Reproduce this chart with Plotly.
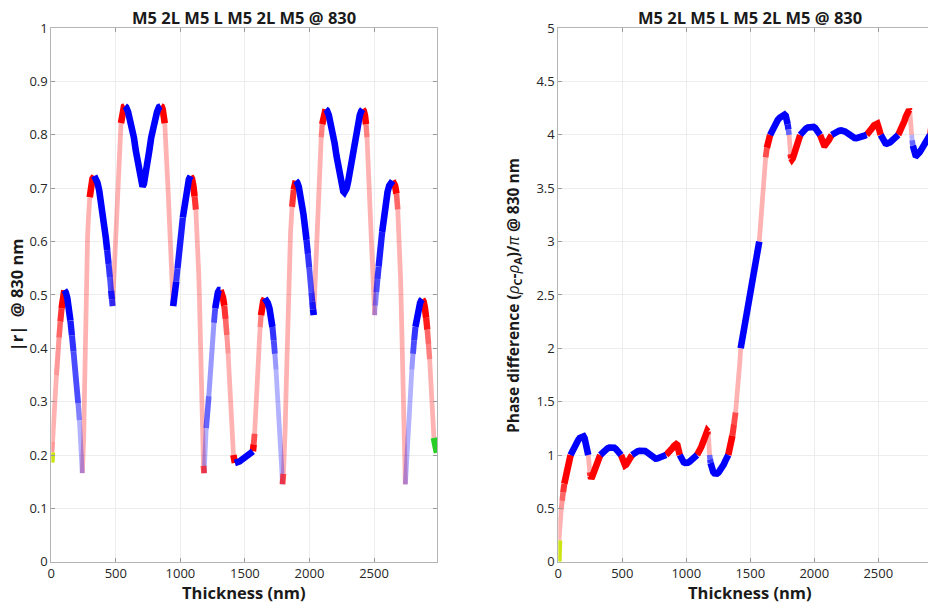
import math
import plotly.graph_objects as go

# ---------------- data: |r| @ 830 nm (left panel) ----------------
R_THICK = [0, 2, 4, 10, 15, 22, 30, 40, 50, 60, 70, 80, 90,
           101, 112, 124, 136, 148, 160, 172, 184, 196, 208, 218, 227, 234, 238,
           240, 246, 251, 255, 259, 263, 268, 274, 281, 289, 298, 308, 319,
           333, 345, 358, 371, 384, 397, 410, 422, 433, 444, 454, 463, 470,
           475, 481, 487, 493, 499, 505, 512, 519, 526, 533, 540, 548, 556, 563,
           570, 580, 595, 610, 625, 640, 655, 670, 685, 697, 707, 717, 729, 744, 759, 774, 789, 804, 819, 834,
           849, 856, 863, 871, 879, 886, 893, 900, 907, 914, 920, 926, 932, 938,
           944, 950, 958, 968, 978, 988, 998, 1008, 1019, 1030, 1042, 1054, 1066,
           1079, 1090, 1100, 1110, 1120, 1128, 1135, 1142, 1148, 1154, 1159, 1164, 1169, 1174, 1179,
           1184, 1188, 1193, 1200, 1210, 1220, 1230, 1240, 1250, 1260, 1270, 1280, 1291, 1301,
           1311, 1320, 1330, 1340, 1350, 1360, 1370, 1380, 1390, 1398, 1405, 1411, 1417,
           1422, 1440, 1460, 1480, 1500, 1520, 1540,
           1562, 1568, 1575, 1583, 1590, 1597, 1604, 1611, 1618, 1625, 1633, 1642,
           1654, 1665, 1677, 1690, 1702, 1713, 1723, 1732, 1741, 1750, 1758, 1766, 1773, 1779, 1785,
           1791, 1798, 1805, 1812, 1819, 1826, 1833, 1842, 1853, 1865, 1878, 1887,
           1894, 1905, 1917, 1929, 1941, 1953, 1965, 1977, 1988, 1998, 2007, 2015, 2022, 2028,
           2033, 2038, 2044, 2050, 2056, 2063, 2070, 2077, 2084, 2091, 2099, 2107, 2116,
           2125, 2135, 2150, 2165, 2180, 2195, 2210, 2225, 2240, 2252, 2262, 2270, 2278, 2288, 2300, 2315, 2330, 2345, 2360, 2375, 2390, 2402,
           2412, 2421, 2430, 2438, 2446, 2453, 2460, 2467, 2474, 2481, 2487, 2493, 2499,
           2505, 2510, 2518, 2527, 2536, 2545, 2554, 2563, 2572, 2582, 2593, 2605, 2618, 2631,
           2644, 2652, 2663, 2674, 2684, 2693, 2700, 2706, 2712, 2718, 2724, 2730, 2736, 2740,
           2743, 2749, 2755, 2761, 2768, 2776, 2784, 2793, 2802, 2811, 2821, 2832, 2844, 2857, 2866,
           2874, 2884, 2894, 2904, 2913, 2922, 2931, 2939, 2946, 2953, 2959,
           2964, 2970, 2976, 2982, 2988]
R_ABS = [0.186, 0.195, 0.205, 0.225, 0.25, 0.28, 0.31, 0.35, 0.385, 0.42, 0.45, 0.475, 0.495,
         0.509, 0.505, 0.494, 0.476, 0.452, 0.424, 0.394, 0.362, 0.33, 0.297, 0.265, 0.232, 0.2, 0.178,
         0.166, 0.19, 0.23, 0.29, 0.36, 0.43, 0.5, 0.56, 0.61, 0.65, 0.683, 0.705, 0.718,
         0.723, 0.719, 0.71, 0.696, 0.678, 0.656, 0.632, 0.608, 0.584, 0.558, 0.533, 0.508, 0.492,
         0.479, 0.51, 0.545, 0.585, 0.615, 0.645, 0.685, 0.73, 0.765, 0.795, 0.822, 0.838, 0.848, 0.853,
         0.854, 0.852, 0.843, 0.83, 0.815, 0.795, 0.77, 0.745, 0.722, 0.708, 0.703, 0.708, 0.722, 0.745, 0.77, 0.795, 0.815, 0.83, 0.843, 0.852,
         0.854, 0.853, 0.848, 0.838, 0.822, 0.795, 0.765, 0.73, 0.685, 0.645, 0.615, 0.585, 0.545, 0.51,
         0.479, 0.49, 0.505, 0.525, 0.55, 0.573, 0.597, 0.62, 0.645, 0.668, 0.69, 0.706, 0.717,
         0.723, 0.718, 0.705, 0.685, 0.66, 0.625, 0.585, 0.54, 0.49, 0.43, 0.36, 0.3, 0.25, 0.21, 0.18,
         0.166, 0.19, 0.22, 0.25, 0.28, 0.31, 0.345, 0.38, 0.415, 0.448, 0.475, 0.494, 0.505, 0.509,
         0.509, 0.505, 0.495, 0.48, 0.455, 0.425, 0.39, 0.345, 0.3, 0.26, 0.225, 0.2, 0.188,
         0.185, 0.186, 0.188, 0.192, 0.196, 0.2, 0.204,
         0.207, 0.22, 0.24, 0.27, 0.303, 0.34, 0.375, 0.41, 0.44, 0.462, 0.478, 0.488,
         0.494, 0.491, 0.485, 0.475, 0.46, 0.44, 0.415, 0.39, 0.36, 0.328, 0.297, 0.265, 0.235, 0.205, 0.175,
         0.145, 0.165, 0.2, 0.25, 0.32, 0.4, 0.47, 0.545, 0.615, 0.665, 0.697, 0.71,
         0.714, 0.711, 0.703, 0.69, 0.673, 0.652, 0.628, 0.603, 0.577, 0.551, 0.527, 0.505, 0.487, 0.473,
         0.462, 0.49, 0.525, 0.56, 0.595, 0.635, 0.68, 0.725, 0.765, 0.795, 0.82, 0.836, 0.845,
         0.848, 0.846, 0.837, 0.823, 0.805, 0.784, 0.76, 0.735, 0.713, 0.7, 0.694, 0.692, 0.694, 0.7, 0.713, 0.735, 0.76, 0.784, 0.805, 0.823, 0.837, 0.845,
         0.848, 0.845, 0.836, 0.82, 0.795, 0.765, 0.725, 0.68, 0.635, 0.595, 0.56, 0.525, 0.49,
         0.462, 0.48, 0.505, 0.53, 0.553, 0.575, 0.597, 0.618, 0.638, 0.658, 0.677, 0.693, 0.705, 0.712,
         0.714, 0.712, 0.705, 0.69, 0.66, 0.62, 0.58, 0.53, 0.47, 0.4, 0.33, 0.26, 0.2, 0.165,
         0.145, 0.175, 0.205, 0.235, 0.265, 0.297, 0.328, 0.36, 0.39, 0.415, 0.44, 0.46, 0.475, 0.485, 0.49,
         0.492, 0.488, 0.476, 0.457, 0.435, 0.408, 0.38, 0.35, 0.318, 0.285, 0.255,
         0.232, 0.222, 0.213, 0.207, 0.204]
# colour runs: from each start thickness on, the marks take that colour
R_RUN_START = [0, 4, 101, 240, 333, 475, 570, 849, 944, 1079, 1184, 1311, 1422, 1562,
               1654, 1791, 1894, 2033, 2125, 2412, 2505, 2644, 2743, 2874, 2964]
R_RUN_COLOR = ['y', 'r', 'b', 'r', 'b', 'r', 'b', 'r', 'b', 'r', 'b', 'r', 'b', 'r',
               'b', 'r', 'b', 'r', 'b', 'r', 'b', 'r', 'b', 'r', 'g']

# ---------------- data: phase difference (right panel) ----------------
P_THICK = [0, 1, 2, 3,
           5, 8, 12, 17, 23, 30, 38, 47, 57, 67, 77, 87,
           96, 110, 125, 140, 155, 168, 180, 190, 198, 205, 211, 217, 223, 229,
           234, 238, 242, 246, 250, 254, 258, 263, 270, 280, 290, 300, 312, 322,
           328, 342, 356, 370, 385, 400, 413, 425, 438, 451, 463, 476,
           490, 496, 502, 508, 515, 522, 530, 540, 550, 560, 570,
           576, 590, 605, 620, 635, 650, 664, 678, 692, 706, 720, 734, 748, 760, 772, 785, 800, 815, 830,
           842, 855, 868, 880, 892, 903, 913, 922, 930, 936, 941, 946,
           949, 955, 962, 970, 980, 990, 1000, 1012, 1025, 1040, 1055, 1068, 1080,
           1084, 1095, 1106, 1117, 1128, 1138, 1148, 1157, 1164, 1169, 1172, 1175, 1178, 1181,
           1182, 1186, 1190, 1196, 1203, 1211, 1220, 1230, 1240, 1252, 1265, 1278, 1292, 1305, 1318,
           1328, 1345, 1360, 1373, 1385, 1395, 1404, 1412, 1419,
           1425, 1445, 1465, 1485, 1505, 1525, 1545, 1560,
           1570, 1578, 1586, 1594, 1602, 1611, 1620, 1630, 1641,
           1655, 1670, 1685, 1700, 1715, 1730, 1745, 1758, 1768, 1777, 1785, 1792, 1798,
           1803, 1807, 1811, 1815, 1820, 1825, 1831, 1840, 1850, 1860, 1870, 1880,
           1890, 1905, 1920, 1935, 1950, 1965, 1980, 1995, 2008, 2020, 2032,
           2045, 2052, 2060, 2068, 2076, 2085, 2095, 2105, 2115, 2125,
           2136, 2150, 2165, 2180, 2195, 2210, 2225, 2240, 2255, 2270, 2285, 2300, 2315, 2330, 2345, 2360, 2375, 2390,
           2409, 2420, 2432, 2444, 2456, 2467, 2477, 2486, 2493, 2500, 2507, 2513,
           2519, 2527, 2536, 2546, 2556, 2566, 2578, 2592, 2606, 2620, 2635, 2648,
           2656, 2668, 2680, 2692, 2704, 2715, 2725, 2734, 2741, 2746, 2749, 2752, 2755, 2758,
           2761, 2765, 2770, 2776, 2783, 2791, 2800, 2810, 2822, 2835, 2850, 2865, 2880, 2893,
           2904, 2912, 2919, 2926, 2932, 2938, 2943, 2948, 2953, 2958, 2963, 2968]
P_PHASE = [0, 0.05, 0.1, 0.15,
           0.2, 0.26, 0.33, 0.41, 0.49, 0.57, 0.65, 0.73, 0.8, 0.86, 0.915, 0.96,
           1.0, 1.04, 1.077, 1.11, 1.138, 1.16, 1.173, 1.178, 1.174, 1.16, 1.135, 1.1, 1.065, 1.03,
           1.0, 0.95, 0.89, 0.84, 0.805, 0.787, 0.783, 0.792, 0.815, 0.848, 0.878, 0.906, 0.94, 0.97,
           1.0, 1.02, 1.037, 1.05, 1.062, 1.069, 1.072, 1.073, 1.068, 1.056, 1.04, 1.02,
           1.0, 0.97, 0.94, 0.918, 0.906, 0.904, 0.91, 0.925, 0.945, 0.965, 0.985,
           1.0, 1.015, 1.027, 1.035, 1.04, 1.043, 1.043, 1.038, 1.027, 1.012, 0.995, 0.98, 0.97, 0.966, 0.967, 0.972, 0.98, 0.988, 0.995,
           1.0, 1.013, 1.028, 1.045, 1.065, 1.083, 1.097, 1.102, 1.095, 1.075, 1.045, 1.015,
           1.0, 0.98, 0.96, 0.945, 0.932, 0.926, 0.924, 0.928, 0.937, 0.951, 0.967, 0.982, 0.995,
           1.0, 1.02, 1.045, 1.075, 1.11, 1.145, 1.18, 1.21, 1.225, 1.218, 1.19, 1.14, 1.08, 1.02,
           1.0, 0.96, 0.925, 0.89, 0.86, 0.84, 0.828, 0.824, 0.826, 0.837, 0.856, 0.88, 0.91, 0.945, 0.975,
           1.0, 1.08, 1.18, 1.29, 1.4, 1.52, 1.64, 1.76, 1.88,
           2.0, 2.14, 2.28, 2.42, 2.56, 2.7, 2.83, 2.93,
           3.0, 3.13, 3.27, 3.41, 3.55, 3.68, 3.79, 3.88, 3.95,
           4.0, 4.045, 4.085, 4.115, 4.14, 4.16, 4.178, 4.188, 4.19, 4.18, 4.15, 4.1, 4.05,
           4.0, 3.94, 3.88, 3.82, 3.78, 3.77, 3.78, 3.81, 3.85, 3.89, 3.93, 3.965,
           4.0, 4.025, 4.045, 4.06, 4.07, 4.077, 4.078, 4.075, 4.063, 4.045, 4.022,
           4.0, 3.975, 3.945, 3.92, 3.906, 3.905, 3.915, 3.93, 3.955, 3.978,
           4.0, 4.012, 4.025, 4.033, 4.04, 4.042, 4.04, 4.032, 4.02, 4.005, 3.99, 3.978, 3.971, 3.969, 3.971, 3.977, 3.984, 3.992,
           4.0, 4.012, 4.03, 4.05, 4.07, 4.09, 4.105, 4.11, 4.105, 4.08, 4.05, 4.025,
           4.0, 3.975, 3.95, 3.932, 3.922, 3.918, 3.92, 3.93, 3.945, 3.96, 3.975, 3.99,
           4.0, 4.025, 4.055, 4.09, 4.13, 4.17, 4.205, 4.228, 4.235, 4.225, 4.19, 4.14, 4.09, 4.04,
           4.0, 3.95, 3.9, 3.86, 3.83, 3.812, 3.808, 3.815, 3.835, 3.86, 3.89, 3.92, 3.95, 3.975,
           4.0, 4.07, 4.15, 4.24, 4.33, 4.42, 4.5, 4.58, 4.66, 4.74, 4.82, 4.9]
P_RUN_START = [0, 5, 96, 234, 328, 490, 576, 842, 949, 1084, 1182, 1328, 1425, 1570,
               1655, 1803, 1890, 2045, 2136, 2409, 2519, 2656, 2761, 2904]
P_RUN_COLOR = ['y', 'r', 'b', 'r', 'b', 'r', 'b', 'r', 'b', 'r', 'b', 'r', 'b', 'r',
               'b', 'r', 'b', 'r', 'b', 'r', 'b', 'r', 'b', 'r']

TITLE = "M5 2L M5 L M5 2L M5 @ 830"
X_TICKS = [0, 500, 1000, 1500, 2000, 2500]
R_YTICKS = [0, 0.1, 0.2, 0.3, 0.4, 0.5, 0.6, 0.7, 0.8, 0.9, 1]
P_YTICKS = [0, 0.5, 1, 1.5, 2, 2.5, 3, 3.5, 4, 4.5, 5]

# ---------------- layout geometry (page pixels; page body has an 8px margin) ----------------
OFF = 8
W, H = 936 - OFF, 604 - OFF
Y_TOP, Y_BOT = 28.2 - OFF, 561.7 - OFF
LX0, LX1 = 51.3 - OFF, 437.0 - OFF
RX0, RX1 = 558.3 - OFF, 936.0 - OFF
RX1_FULL = 941.0 - OFF   # right axes continues past the page edge
L_XMAX = 2988
R_XMAX = 2951

RGB = {'r': (255, 0, 0), 'b': (0, 0, 255), 'y': (205, 228, 20), 'g': (40, 205, 40)}
FONT = "Open Sans, Arial, sans-serif"


def run_color(t, starts, colors):
    c = colors[0]
    for s, col in zip(starts, colors):
        if t >= s:
            c = col
    return c


def build(ts, vs, starts, colors, kx, ky, a0, slope, xa, ya):
    segs = []
    for i in range(len(ts) - 1):
        c = run_color(ts[i], starts, colors)
        dt = ts[i + 1] - ts[i]
        L = math.hypot(dt * kx, (vs[i + 1] - vs[i]) * ky) / dt
        a = min(1.0, max(0.32, 1 - (L - a0) * slope))
        if c in ('y', 'g'):
            a = 1.0
        a = round(a * 10) / 10
        segs.append((c, a))
    groups = {}
    j = 0
    while j < len(segs):
        k = j
        while k + 1 < len(segs) and segs[k + 1] == segs[j]:
            k += 1
        gx, gy = groups.setdefault(segs[j], ([], []))
        if gx:
            gx.append(None)
            gy.append(None)
        gx.extend(ts[j:k + 2])
        gy.extend(vs[j:k + 2])
        j = k + 1
    out = []
    for (c, a), (gx, gy) in sorted(groups.items(), key=lambda kv: kv[0][1]):
        r, g, b = RGB[c]
        out.append(go.Scatter(
            x=gx, y=gy, mode="lines", xaxis=xa, yaxis=ya,
            line=dict(color=f"rgba({r},{g},{b},{a})", width=4.0 + 2.6 * a),
            hoverinfo="skip", showlegend=False, connectgaps=False))
    return out


ydom = [1 - Y_BOT / H, 1 - Y_TOP / H]
ph = Y_BOT - Y_TOP

fig = go.Figure()
for tr in build(R_THICK, R_ABS, R_RUN_START, R_RUN_COLOR,
                (LX1 - LX0) / L_XMAX, ph / 1.0, 1.15, 0.9, "x", "y"):
    fig.add_trace(tr)
for tr in build(P_THICK, P_PHASE, P_RUN_START, P_RUN_COLOR,
                (RX1 - RX0) / R_XMAX, ph / 5.0, 0.8, 1.5, "x2", "y2"):
    fig.add_trace(tr)

axis_common = dict(showgrid=True, gridcolor="#ededed", gridwidth=1, zeroline=False,
                   showline=True, linecolor="#b5b5b5", linewidth=1, automargin=False,
                   ticks="inside", ticklen=4, tickcolor="#9a9a9a",
                   tickfont=dict(family=FONT, size=13, color="#262626"))

fig.update_layout(
    width=W, height=H, margin=dict(l=0, r=0, t=0, b=0, autoexpand=False),
    paper_bgcolor="white", plot_bgcolor="white", showlegend=False,
    xaxis=dict(domain=[LX0 / W, LX1 / W], range=[0, L_XMAX], anchor="y",
               tickvals=X_TICKS, mirror="ticks", **axis_common),
    yaxis=dict(domain=ydom, range=[0, 1], anchor="x",
               tickvals=R_YTICKS, ticktext=[f"{v:g}" for v in R_YTICKS],
               mirror="ticks", **axis_common),
    xaxis2=dict(domain=[RX0 / W, RX1 / W], range=[0, R_XMAX], anchor="y2",
                tickvals=X_TICKS, mirror="ticks", **axis_common),
    yaxis2=dict(domain=ydom, range=[0, 5], anchor="x2",
                tickvals=P_YTICKS, ticktext=[f"{v:g}" for v in P_YTICKS],
                mirror=False, **axis_common),
)

bold = dict(family=FONT, size=16.5, color="#1a1a1a", weight="bold")
ann = [
    dict(text=TITLE, x=(LX0 + LX1) / 2 / W, y=1 - (17.5 - OFF) / H),
    dict(text=TITLE, x=(RX0 + RX1_FULL) / 2 / W, y=1 - (17.5 - OFF) / H),
    dict(text="Thickness (nm)", x=(LX0 + LX1) / 2 / W, y=1 - (592 - OFF) / H),
    dict(text="Thickness (nm)", x=(RX0 + RX1_FULL) / 2 / W, y=1 - (592 - OFF) / H),
    dict(text="|r|  @ 830 nm", x=(16.5 - OFF) / W, y=1 - (Y_TOP + Y_BOT) / 2 / H, textangle=-90),
    dict(text="Phase difference (<span style='font-weight:normal'><i>ρ</i></span><sub>C</sub>-"
              "<span style='font-weight:normal'><i>ρ</i></span><sub>A</sub>)/"
              "<span style='font-weight:normal'><i>π</i></span> @ 830 nm",
         x=(514 - OFF) / W, y=1 - (Y_TOP + Y_BOT) / 2 / H, textangle=-90, font_size=15.5),
]
for a in ann:
    fs = a.pop("font_size", None)
    f = dict(bold)
    if fs:
        f["size"] = fs
    fig.add_annotation(xref="paper", yref="paper", showarrow=False,
                       xanchor="center", yanchor="middle", font=f, **a)

fig.write_html("out.html")
